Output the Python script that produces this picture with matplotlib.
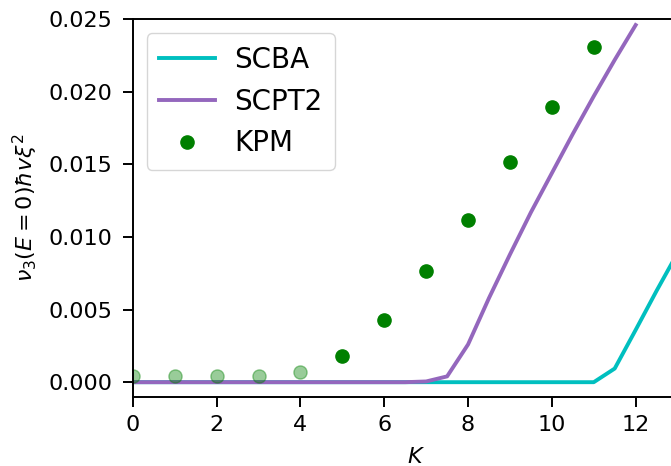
import numpy as np
import matplotlib
matplotlib.use('Agg')
import matplotlib.pyplot as plt

# SCBA i SCPT2 na siatce K co 0.5
K_siatka = np.arange(0, 13.01, 0.5)
scba = [0.0] * 23 + [0.00094, 0.0036, 0.0063, 0.0089]
K_pt2 = np.arange(0, 12.01, 0.5)
scpt2 = [0.0] * 14 + [0.00005, 0.0004, 0.0026, 0.0058, 0.0088, 0.0117,
                      0.0144, 0.0171, 0.0197, 0.0222, 0.0246]

# KPM - pierwsze punkty (K=0..4) jasniejsze
K_kpm_slabe = [0, 1, 2, 3, 4]
kpm_slabe = [0.00041, 0.00041, 0.00041, 0.00041, 0.00067]
K_kpm = [5, 6, 7, 8, 9, 10, 11]
kpm = [0.00179, 0.0043, 0.00767, 0.0112, 0.01514, 0.01893, 0.02311]

fig = plt.figure(figsize=(6.71, 4.66), dpi=100)
ax = fig.add_axes([0.198, 0.1487, 0.843, 0.81])

ax.plot(K_siatka, scba, color='c', lw=2.8, label='SCBA')
ax.plot(K_pt2, scpt2, color='tab:purple', lw=2.8, label='SCPT2')
ax.plot(K_kpm, kpm, 'o', color='green', ms=9.5, label='KPM')
ax.plot(K_kpm_slabe, kpm_slabe, 'o', color='green', ms=9.5, alpha=0.4)

ax.set_xlim(0, 13.5)
ax.set_ylim(-0.001, 0.025)
ax.set_xticks([0, 2, 4, 6, 8, 10, 12])
ax.set_yticks([0, 0.005, 0.01, 0.015, 0.02, 0.025])
ax.set_yticklabels(['0.000', '0.005', '0.010', '0.015', '0.020', '0.025'])
ax.tick_params(labelsize=16, length=7, width=1.4)
ax.tick_params(axis='y', pad=7.5)
ax.tick_params(axis='x', pad=6.5)
for s in ax.spines.values():
    s.set_linewidth(1.4)

ax.set_xlabel('$K$', fontsize=16, labelpad=8)
ax.set_ylabel(r'$\nu_3(E=0)\hbar v\xi^2$', fontsize=16, labelpad=6)
ax.legend(loc='upper left', fontsize=20, labelspacing=0.5, borderpad=0.45,
          handletextpad=0.7)

plt.savefig('out.png')
